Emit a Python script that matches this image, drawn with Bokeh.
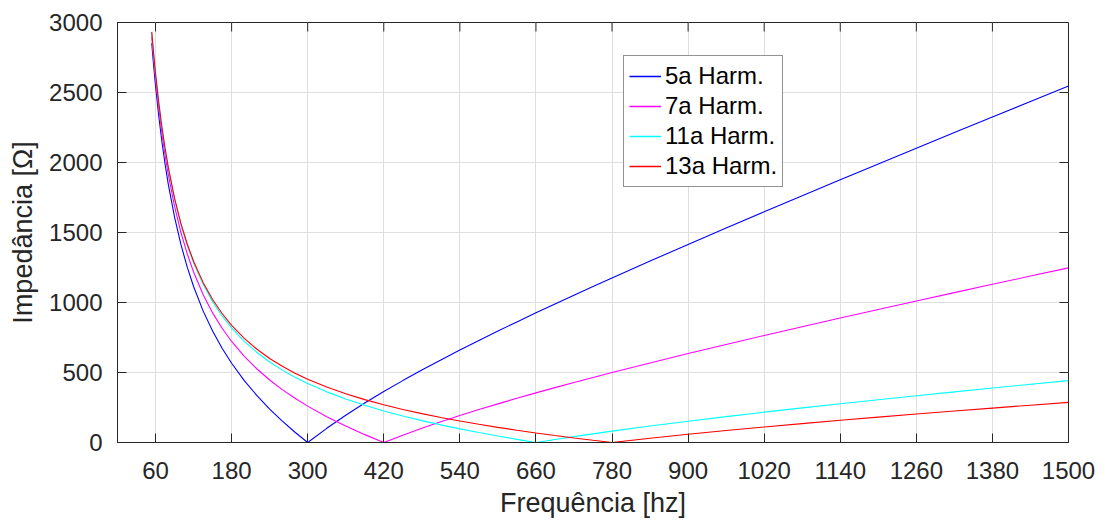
from bokeh.plotting import figure
from bokeh.models import Legend, LegendItem, FixedTicker, Range1d
from bokeh.embed import file_html
from bokeh.resources import INLINE

# Frequency samples [Hz]
freq = [54, 57, 60, 65, 70, 75, 80, 90, 100, 110, 120, 135, 150, 165, 180,
        200, 220, 240, 260, 280, 300, 330, 360, 390, 420, 450, 480, 510, 540,
        570, 600, 630, 660, 690, 720, 750, 780, 840, 900, 960, 1020, 1080,
        1140, 1200, 1260, 1320, 1380, 1440, 1500]

# Filter impedance magnitude [Ohm] for each tuned harmonic
z_5a = [2851.8, 2691.4, 2546.5, 2333.6, 2149.8, 1989.5, 1847.9, 1609.2,
        1414.8, 1252.4, 1114.1, 940.2, 795.7, 672.8, 565.9, 442.1, 334.4,
        238.7, 152.3, 73.2, 0.0, 101.3, 194.5, 281.6, 363.8, 442.1, 517.2,
        589.8, 660.2, 728.8, 795.7, 861.5, 926.0, 989.5, 1052.2, 1114.1,
        1175.4, 1295.9, 1414.8, 1531.8, 1647.8, 1762.5, 1876.3, 1989.5,
        2101.9, 2213.7, 2325.1, 2436.0, 2546.5]

z_7a = [2898.6, 2740.8, 2598.5, 2389.9, 2210.4, 2054.4, 1917.2, 1687.2,
        1501.4, 1347.7, 1218.0, 1057.1, 925.7, 815.7, 721.8, 615.4, 524.9,
        446.6, 377.5, 315.8, 259.8, 184.6, 117.3, 56.2, 0.0, 52.3, 101.5,
        148.0, 192.5, 235.1, 276.0, 315.8, 354.4, 391.8, 428.6, 464.5,
        499.7, 568.4, 635.2, 700.4, 764.3, 827.0, 889.0, 950.1, 1010.5,
        1070.4, 1129.8, 1188.7, 1247.3]

z_11a = [2927.6, 2771.4, 2630.7, 2424.8, 2248.0, 2094.7, 1960.2, 1735.5,
         1555.1, 1406.7, 1282.5, 1129.6, 1006.2, 904.3, 818.4, 722.7, 643.0,
         575.4, 517.1, 466.1, 420.9, 361.7, 310.6, 265.6, 225.4, 189.3, 156.2,
         125.8, 97.4, 70.9, 46.1, 22.4, 0.0, 21.4, 42.1, 61.8, 81.0, 117.4,
         152.0, 185.0, 216.7, 247.2, 276.9, 305.8, 334.1, 361.7, 388.9,
         415.6, 442.0]

z_13a = [2933.2, 2777.3, 2636.9, 2431.5, 2255.3, 2102.5, 1968.5, 1744.9,
         1565.4, 1418.1, 1294.9, 1143.6, 1021.8, 921.4, 837.1, 743.5, 665.8,
         600.3, 544.1, 495.2, 452.0, 396.0, 347.9, 306.1, 269.0, 236.0, 206.0,
         178.7, 153.4, 130.1, 108.3, 87.8, 68.4, 50.2, 32.6, 16.0, 0.0, 30.2,
         58.6, 85.3, 110.8, 135.1, 158.6, 181.3, 203.3, 224.7, 245.7, 266.2,
         286.3]

series_labels = ["5a Harm.", "7a Harm.", "11a Harm.", "13a Harm."]
series_colors = ["#0000ff", "#ff00ff", "#00ffff", "#ff0000"]

x_ticks = [60, 180, 300, 420, 540, 660, 780, 900, 1020, 1140, 1260, 1380, 1500]
y_ticks = [0, 500, 1000, 1500, 2000, 2500, 3000]

X_MIN, X_MAX = 0, 1500
Y_MIN, Y_MAX = 0, 3000

FONT = "Liberation Sans"
INK = "#262626"
GRID = "#dfdfdf"
TICK_PX = 9

W, H = 1108, 522
BORDER_L, BORDER_R, BORDER_T, BORDER_B = 117, 40, 22, 80

p = figure(width=W, height=H,
           x_range=Range1d(X_MIN, X_MAX), y_range=Range1d(Y_MIN, Y_MAX),
           output_backend="svg", toolbar_location=None,
           min_border_left=BORDER_L, min_border_right=BORDER_R,
           min_border_top=BORDER_T, min_border_bottom=BORDER_B)

p.background_fill_color = "white"
p.border_fill_color = "white"
p.outline_line_color = INK
p.outline_line_width = 1

renderers = []
for ys, c in zip([z_5a, z_7a, z_11a, z_13a], series_colors):
    renderers.append(p.line(freq, ys, line_color=c, line_width=1.1))

# legend swatches: a single undefined point each, so nothing shows in the plot area
nan = float("nan")
swatches = [p.line([nan], [nan], line_color=c, line_width=1.6) for c in series_colors]

# main axes
for ax, ticks in ((p.xaxis[0], x_ticks), (p.yaxis[0], y_ticks)):
    ax.ticker = FixedTicker(ticks=ticks)
    ax.major_tick_in = TICK_PX
    ax.major_tick_out = 0
    ax.minor_tick_line_color = None
    ax.axis_line_color = INK
    ax.major_tick_line_color = INK
    ax.major_label_text_font = FONT
    ax.major_label_text_font_size = "24px"
    ax.major_label_text_color = INK
    ax.axis_label_text_font = FONT
    ax.axis_label_text_font_size = "27px"
    ax.axis_label_text_font_style = "normal"
    ax.axis_label_text_color = INK

p.xaxis.axis_label = "Frequência [hz]"
p.yaxis.axis_label = "Impedância [Ω]"
p.xaxis.major_label_standoff = 19
p.yaxis.major_label_standoff = 15
p.xaxis.axis_label_standoff = 6
p.yaxis.axis_label_standoff = 8

# inward tick marks along the top and right edges of the box
frame_w = W - BORDER_L - BORDER_R
frame_h = H - BORDER_T - BORDER_B
dy = TICK_PX * (Y_MAX - Y_MIN) / frame_h
dx = TICK_PX * (X_MAX - X_MIN) / frame_w
p.segment(x0=x_ticks, x1=x_ticks, y0=[Y_MAX] * len(x_ticks),
          y1=[Y_MAX - dy] * len(x_ticks), line_color=INK, line_width=1)
p.segment(x0=[X_MAX] * len(y_ticks), x1=[X_MAX - dx] * len(y_ticks),
          y0=y_ticks, y1=y_ticks, line_color=INK, line_width=1)

p.xgrid.ticker = FixedTicker(ticks=x_ticks)
p.ygrid.ticker = FixedTicker(ticks=y_ticks)
p.xgrid.grid_line_color = GRID
p.ygrid.grid_line_color = GRID

legend = Legend(
    items=[LegendItem(label=l, renderers=[r]) for l, r in zip(series_labels, swatches)],
    location=(506, 255),
    label_text_font=FONT, label_text_font_size="24px", label_text_color="black",
    border_line_color=INK, border_line_width=1,
    background_fill_color="white", background_fill_alpha=1.0,
    padding=5, spacing=0, margin=0,
    glyph_width=32, glyph_height=30, label_height=30, label_standoff=4,
)
p.add_layout(legend)

open("out.html", "w").write(file_html(p, INLINE))
